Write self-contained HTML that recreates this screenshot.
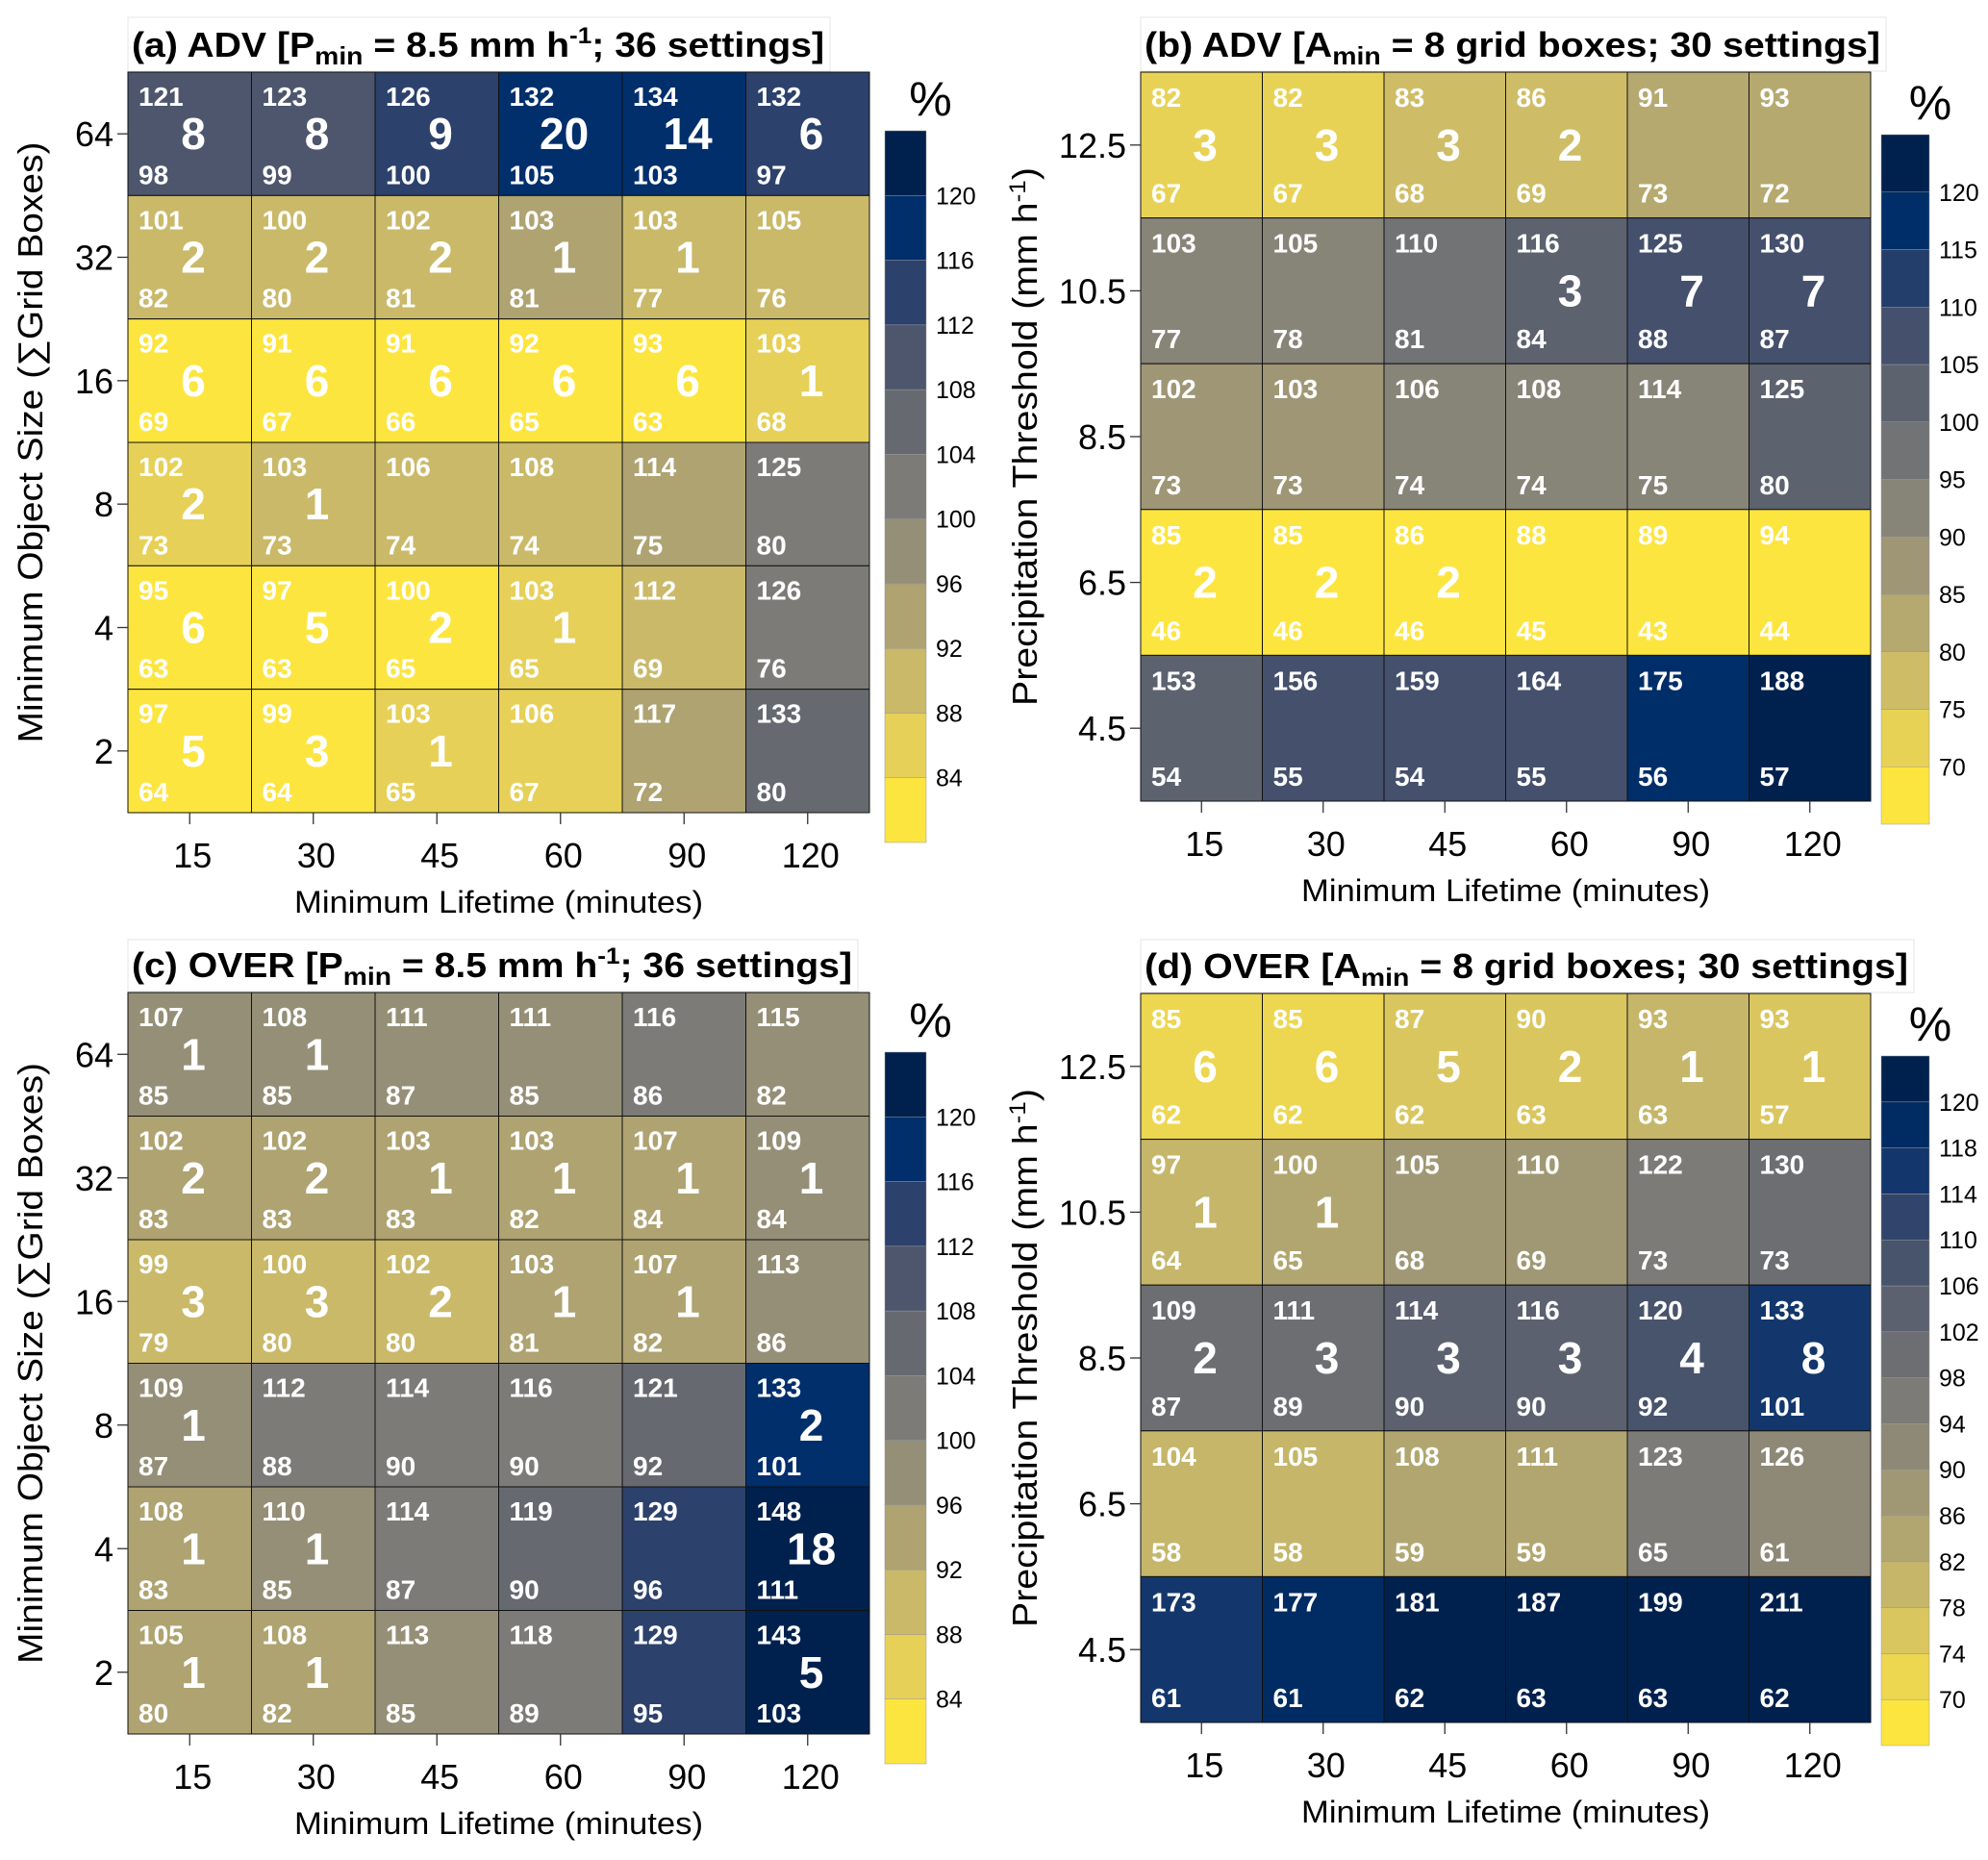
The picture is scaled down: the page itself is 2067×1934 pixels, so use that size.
<!DOCTYPE html>
<html><head><meta charset="utf-8">
<style>
html,body{margin:0;padding:0;background:#fff;}
svg{display:block;font-family:"Liberation Sans",Arial,sans-serif;}
</style></head>
<body>
<svg id="fig" width="2067" height="1934" viewBox="0 0 2067 1934" xmlns="http://www.w3.org/2000/svg"></svg>
<script>
// ---------- data ----------
const xCats = ["15","30","45","60","90","120"];
const yCatsSize = ["64","32","16","8","4","2"];
const yCatsPrec = ["12.5","10.5","8.5","6.5","4.5"];

const aTop = [[121,123,126,132,134,132],[101,100,102,103,103,105],[92,91,91,92,93,103],[102,103,106,108,114,125],[95,97,100,103,112,126],[97,99,103,106,117,133]];
const aMid = [[8,8,9,20,14,6],[2,2,2,1,1,""],[6,6,6,6,6,1],[2,1,"","","",""],[6,5,2,1,"",""],[5,3,1,"","",""]];
const aBot = [[98,99,100,105,103,97],[82,80,81,81,77,76],[69,67,66,65,63,68],[73,73,74,74,75,80],[63,63,65,65,69,76],[64,64,65,67,72,80]];

const bTop = [[82,82,83,86,91,93],[103,105,110,116,125,130],[102,103,106,108,114,125],[85,85,86,88,89,94],[153,156,159,164,175,188]];
const bMid = [[3,3,3,2,"",""],["","","",3,7,7],["","","","","",""],[2,2,2,"","",""],["","","","","",""]];
const bBot = [[67,67,68,69,73,72],[77,78,81,84,88,87],[73,73,74,74,75,80],[46,46,46,45,43,44],[54,55,54,55,56,57]];

const cTop = [[107,108,111,111,116,115],[102,102,103,103,107,109],[99,100,102,103,107,113],[109,112,114,116,121,133],[108,110,114,119,129,148],[105,108,113,118,129,143]];
const cMid = [[1,1,"","","",""],[2,2,1,1,1,1],[3,3,2,1,1,""],[1,"","","","",2],[1,1,"","","",18],[1,1,"","","",5]];
const cBot = [[85,85,87,85,86,82],[83,83,83,82,84,84],[79,80,80,81,82,86],[87,88,90,90,92,101],[83,85,87,90,96,111],[80,82,85,89,95,103]];

const dTop = [[85,85,87,90,93,93],[97,100,105,110,122,130],[109,111,114,116,120,133],[104,105,108,111,123,126],[173,177,181,187,199,211]];
const dMid = [[6,6,5,2,1,1],[1,1,"","","",""],[2,3,3,3,4,8],["","","","","",""],["","","","","",""]];
const dBot = [[62,62,62,63,63,57],[64,65,68,69,73,73],[87,89,90,90,92,101],[58,58,59,59,65,61],[61,61,62,63,63,62]];

const boundsAC = [80,84,88,92,96,100,104,108,112,116,120,124];
const boundsB = [65,70,75,80,85,90,95,100,105,110,115,120,125];
const boundsD = [66,70,74,78,82,86,90,94,98,102,106,110,114,118,120,124];

// ---------- helpers ----------
const NS = "http://www.w3.org/2000/svg";
const svg = document.getElementById('fig');
function mk(tag, attrs, parent){
  const e = document.createElementNS(NS, tag);
  for (const k in attrs) e.setAttribute(k, attrs[k]);
  (parent||svg).appendChild(e);
  return e;
}
const stops = [[0,"#00214e"],[0.1,"#002f6c"],[0.2,"#2c416b"],[0.3,"#4d566c"],[0.4,"#666970"],[0.5,"#7c7b78"],[0.6,"#958f77"],[0.7,"#aea371"],[0.8,"#c9b969"],[0.9,"#e6d057"],[1,"#fde53f"]];
function hex(h){return [1,3,5].map(i=>parseInt(h.substr(i,2),16));}
function cividis(t){
  t=Math.max(0,Math.min(1,t));
  for(let i=1;i<stops.length;i++){
    if(t<=stops[i][0]){
      const a=stops[i-1],b=stops[i];const f=(t-a[0])/(b[0]-a[0]);
      const A=hex(a[1]),B=hex(b[1]);
      return "rgb("+A.map((v,j)=>Math.round(v+(B[j]-v)*f)).join(",")+")";
    }
  }
  return stops[stops.length-1][1];
}
function binColor(bounds,i){const n=bounds.length-1;return cividis(1-i/(n-1));}
function colorFor(bounds,v){
  const n=bounds.length-1;let i=0;
  while(i<n-1 && v>=bounds[i+1]) i++;
  if(v<bounds[0]) i=0;
  return binColor(bounds,i);
}

function panel(p){
  const g = mk('g',{});
  
  
  const nr=p.top.length, nc=xCats.length;
  const cw=(p.gx1-p.gx0)/nc, ch=(p.gy1-p.gy0)/nr;
  const xPos = j => p.gx0 + cw*j;
  const yPos = i => p.gy0 + ch*i;
  const tb = mk('rect',{x:p.gx0,y:p.ty0,width:p.tw,height:p.gy0-p.ty0-1,fill:"#fff",stroke:"#e4e4e4","stroke-width":1},g);
  
  
  const tt = mk('text',{x:p.gx0+4,y:p.gy0-16,"font-size":36,"font-weight":"bold",fill:"#000",textLength:p.tw-10,lengthAdjust:"spacingAndGlyphs"},g);
  
  
  tt.innerHTML = p.title;
  for(let i=0;i<nr;i++){
    for(let j=0;j<nc;j++){
      const mean=(p.top[i][j]+p.bot[i][j])/2;
      const r = mk('rect',{x:xPos(j),y:yPos(i),width:cw,height:ch,fill:colorFor(p.bounds,mean),stroke:"#111","stroke-width":1},g);
      
      
      const t1 = mk('text',{x:xPos(j)+11,y:yPos(i)+p.topOff,"font-size":28,"font-weight":"bold",fill:"#fff"},g);
      
      
      t1.textContent = p.top[i][j];
      const t2 = mk('text',{x:xPos(j)+11,y:yPos(i)+ch-p.botOff,"font-size":28,"font-weight":"bold",fill:"#fff"},g);
      
      
      t2.textContent = p.bot[i][j];
      if(p.mid[i][j]!==""){
        const t3 = mk('text',{x:xPos(j)+cw*0.53,y:yPos(i)+ch/2+16,"font-size":46,"font-weight":"bold",fill:"#fff","text-anchor":"middle"},g);
        
        
        t3.textContent = p.mid[i][j];
      }
    }
  }
  for(let i=0;i<nr;i++){
    const yc=yPos(i)+ch/2;
    const tk = mk('line',{x1:p.gx0-11,x2:p.gx0,y1:yc,y2:yc,stroke:"#333","stroke-width":1.3},g);
    
    
    const tl = mk('text',{x:p.gx0-15,y:yc+13,"font-size":36,"text-anchor":"end",fill:"#000"},g);
    
    
    tl.textContent=p.yCats[i];
  }
  for(let j=0;j<nc;j++){
    const xc=xPos(j)+cw/2;
    const tk = mk('line',{x1:xc,x2:xc,y1:p.gy1,y2:p.gy1+12,stroke:"#333","stroke-width":1.3},g);
    
    
    const tl = mk('text',{x:xc+3,y:p.gy1+57,"font-size":36,"text-anchor":"middle",fill:"#000"},g);
    
    
    tl.textContent=xCats[j];
  }
  const xt = mk('text',{x:(p.gx0+p.gx1)/2,y:p.gy1+104,"font-size":32,"text-anchor":"middle",fill:"#000",textLength:425,lengthAdjust:"spacingAndGlyphs"},g);
  
  
  xt.textContent="Minimum Lifetime (minutes)";
  const yc=(p.gy0+p.gy1)/2;
  const yt = mk('text',{x:p.ytx,y:yc,"font-size":36,"text-anchor":"middle",fill:"#000",transform:`rotate(-90 ${p.ytx} ${yc})`,textLength:p.ytLen,lengthAdjust:"spacingAndGlyphs"},g);
  
  
  yt.innerHTML=p.ytitle;
  const n=p.bounds.length-1, bh=(p.cy1-p.cy0)/n;
  for(let k=0;k<n;k++){
    const r = mk('rect',{x:p.cx0,y:p.cy1-bh*(k+1),width:p.cw,height:bh,fill:binColor(p.bounds,k),stroke:"#999","stroke-width":0.5},g);
    
    
  }
  for(let k=1;k<n;k++){
    const l = mk('text',{x:p.cx0+p.cw+10,y:p.cy1-bh*k+9,"font-size":25,fill:"#000"},g);
    
    
    l.textContent=p.bounds[k];
  }
  const pc = mk('text',{x:p.cx0+p.cw/2+26,y:p.cy0-16,"font-size":50,"text-anchor":"middle",fill:"#000"},g);
  
  
  pc.textContent="%";
}

const sizeTitle = "Minimum Object Size (∑Grid Boxes)";
const precTitle = 'Precipitation Threshold (mm h<tspan dy="-12" font-size="24">-1</tspan><tspan dy="12">)</tspan>';
const sub = '<tspan dy="8" font-size="26">min</tspan><tspan dy="-8">';
const sup = '<tspan dy="-14" font-size="24">-1</tspan><tspan dy="14">';

panel({name:"panel-a",title:'(a) ADV [P'+sub+' = 8.5 mm h</tspan>'+sup+'; 36 settings]</tspan>',
  gx0:133,gx1:904,gy0:75,gy1:845,ty0:18,tw:730,top:aTop,mid:aMid,bot:aBot,bounds:boundsAC,yCats:yCatsSize,
  topOff:35,botOff:12,ytx:44,ytitle:sizeTitle,ytLen:625,cx0:920,cw:43,cy0:136,cy1:876});
panel({name:"panel-b",title:'(b) ADV [A'+sub+' = 8 grid boxes; 30 settings]</tspan>',
  gx0:1186,gx1:1945,gy0:75,gy1:833,ty0:18,tw:775,top:bTop,mid:bMid,bot:bBot,bounds:boundsB,yCats:yCatsPrec,
  topOff:36,botOff:16,ytx:1078,ytitle:precTitle,ytLen:560,cx0:1956,cw:50,cy0:140,cy1:857});
panel({name:"panel-c",title:'(c) OVER [P'+sub+' = 8.5 mm h</tspan>'+sup+'; 36 settings]</tspan>',
  gx0:133,gx1:904,gy0:1032,gy1:1803,ty0:977,tw:759,top:cTop,mid:cMid,bot:cBot,bounds:boundsAC,yCats:yCatsSize,
  topOff:35,botOff:12,ytx:44,ytitle:sizeTitle,ytLen:625,cx0:920,cw:43,cy0:1094,cy1:1834});
panel({name:"panel-d",title:'(d) OVER [A'+sub+' = 8 grid boxes; 30 settings]</tspan>',
  gx0:1186,gx1:1945,gy0:1033,gy1:1791,ty0:977,tw:804,top:dTop,mid:dMid,bot:dBot,bounds:boundsD,yCats:yCatsPrec,
  topOff:36,botOff:16,ytx:1078,ytitle:precTitle,ytLen:560,cx0:1956,cw:50,cy0:1098,cy1:1815});
</script>
</body></html>
